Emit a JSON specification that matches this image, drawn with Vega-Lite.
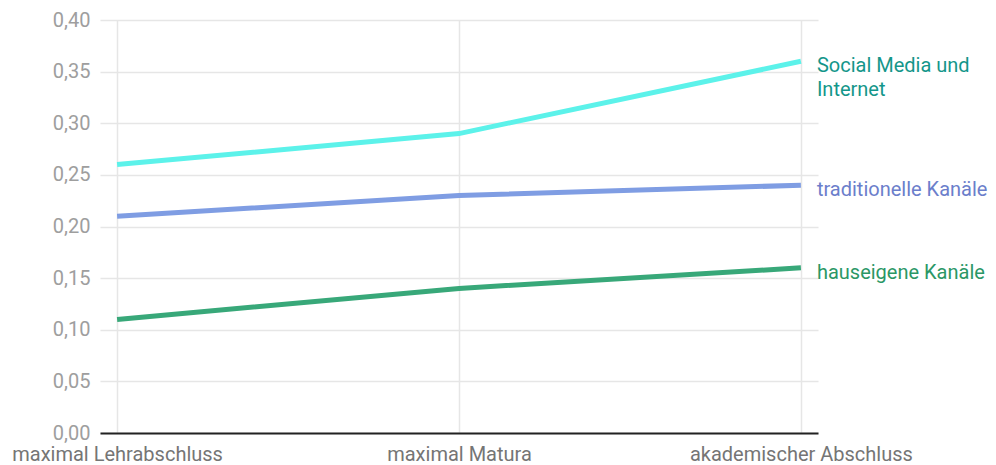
{
  "$schema": "https://vega.github.io/schema/vega-lite/v6.json",
  "width": 718,
  "height": 413,
  "autosize": "none",
  "padding": {"left": 100, "top": 20, "right": 178, "bottom": 32},
  "config": {"view": {"stroke": null}, "font": "Roboto"},
  "data": {
    "values": [
      {"stufe": "maximal Lehrabschluss", "series": "Social Media und Internet", "wert": 0.26, "label": "Social Media und\nInternet"},
      {"stufe": "maximal Matura", "series": "Social Media und Internet", "wert": 0.29, "label": "Social Media und\nInternet"},
      {"stufe": "akademischer Abschluss", "series": "Social Media und Internet", "wert": 0.36, "label": "Social Media und\nInternet"},
      {"stufe": "maximal Lehrabschluss", "series": "traditionelle Kanäle", "wert": 0.21, "label": "traditionelle Kanäle"},
      {"stufe": "maximal Matura", "series": "traditionelle Kanäle", "wert": 0.23, "label": "traditionelle Kanäle"},
      {"stufe": "akademischer Abschluss", "series": "traditionelle Kanäle", "wert": 0.24, "label": "traditionelle Kanäle"},
      {"stufe": "maximal Lehrabschluss", "series": "hauseigene Kanäle", "wert": 0.11, "label": "hauseigene Kanäle"},
      {"stufe": "maximal Matura", "series": "hauseigene Kanäle", "wert": 0.14, "label": "hauseigene Kanäle"},
      {"stufe": "akademischer Abschluss", "series": "hauseigene Kanäle", "wert": 0.16, "label": "hauseigene Kanäle"}
    ]
  },
  "encoding": {
    "x": {
      "field": "stufe", "type": "ordinal", "sort": null,
      "scale": {"type": "point", "padding": 0.05},
      "axis": {"title": null, "labelAngle": 0, "labelFontSize": 20, "labelLimit": 0, "labelColor": "#757575", "labelPadding": 11, "ticks": false, "grid": true, "gridColor": "#e6e6e6", "gridWidth": 1.5, "domainColor": "#222", "domainWidth": 2}
    },
    "y": {
      "field": "wert", "type": "quantitative",
      "scale": {"domain": [0, 0.4], "nice": false},
      "axis": {"title": null, "tickCount": 8, "labelExpr": "replace(format(datum.value, '.2f'), '.', ',')", "labelFontSize": 20, "labelColor": "#9e9e9e", "labelPadding": 10, "ticks": false, "domain": false, "grid": true, "gridColor": "#e6e6e6", "gridWidth": 1.5}
    }
  },
  "layer": [
    {
      "mark": {"type": "line", "strokeWidth": 5},
      "encoding": {
        "color": {"field": "series", "type": "nominal", "legend": null,
          "scale": {"domain": ["Social Media und Internet", "traditionelle Kanäle", "hauseigene Kanäle"], "range": ["#5cf2ea", "#7f9de3", "#38a879"]}}
      }
    },
    {
      "transform": [{"filter": "datum.stufe === 'akademischer Abschluss'"}],
      "mark": {"type": "text", "align": "left", "baseline": "top", "dx": 16, "dy": -5, "fontSize": 20, "lineBreak": "\n", "lineHeight": 24},
      "encoding": {
        "text": {"field": "label"},
        "color": {"field": "series", "type": "nominal", "legend": null,
          "scale": {"domain": ["Social Media und Internet", "traditionelle Kanäle", "hauseigene Kanäle"], "range": ["#14968a", "#6b7ecb", "#2b9766"]}}
      }
    }
  ],
  "resolve": {"scale": {"color": "independent"}}
}
